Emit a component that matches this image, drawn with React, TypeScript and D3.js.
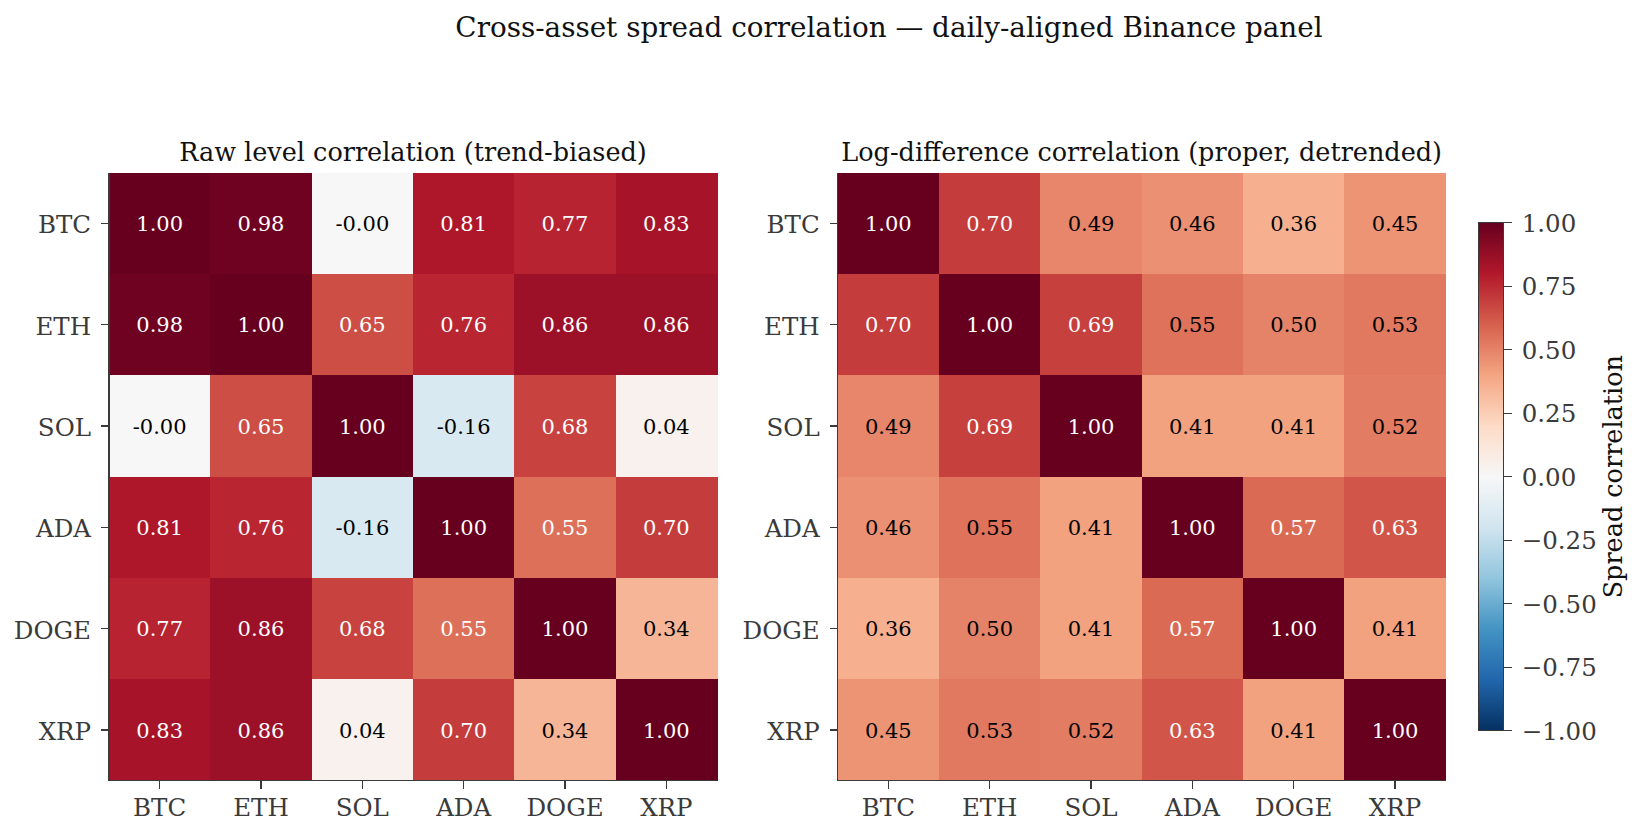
import * as d3 from "d3";

// Assets shown on both axes of each matrix
const assets = ["BTC", "ETH", "SOL", "ADA", "DOGE", "XRP"];

// Correlation of raw spread levels
const rawCorr = [
  [1.0, 0.98, -0.002, 0.81, 0.77, 0.83],
  [0.98, 1.0, 0.65, 0.76, 0.86, 0.86],
  [-0.002, 0.65, 1.0, -0.16, 0.68, 0.04],
  [0.81, 0.76, -0.16, 1.0, 0.553, 0.7],
  [0.77, 0.86, 0.68, 0.553, 1.0, 0.34],
  [0.83, 0.86, 0.04, 0.7, 0.34, 1.0],
];

// Correlation of log-differenced spreads
const logDiffCorr = [
  [1.0, 0.7, 0.49, 0.46, 0.36, 0.45],
  [0.7, 1.0, 0.69, 0.548, 0.5, 0.53],
  [0.49, 0.69, 1.0, 0.41, 0.41, 0.52],
  [0.46, 0.548, 0.41, 1.0, 0.57, 0.63],
  [0.36, 0.5, 0.41, 0.57, 1.0, 0.41],
  [0.45, 0.53, 0.52, 0.63, 0.41, 1.0],
];

const panelTitles = [
  "Raw level correlation (trend-biased)",
  "Log-difference correlation (proper, detrended)",
];
const cbarTicks = [-1, -0.75, -0.5, -0.25, 0, 0.25, 0.5, 0.75, 1];

const W = 1642;
const H = 836;
const FONT = "'DejaVu Serif', 'Liberation Serif', serif";
const AXIS = "#3a3a3a";

const panelTop = 172.7;
const panelSize = 608;
const panelLefts = [109, 837.7];
const cbar = { x: 1478.7, w: 25, top: 222.7, bottom: 730.7 };

// RdBu_r, linear between the 11 brewer stops
const rdbu = d3.schemeRdBu[11].slice().reverse();
const colorStops = d3.range(11).map((i) => -1 + i * 0.2);
const color = d3
  .scaleLinear<string>()
  .domain(colorStops)
  .range(rdbu)
  .interpolate(d3.interpolateRgb)
  .clamp(true);

const fmtTick = d3.format(".2f");

function Heatmap({ matrix, title, left }: { matrix: number[][]; title: string; left: number }) {
  const x = d3.scaleBand().domain(assets).range([left, left + panelSize]);
  const y = d3.scaleBand().domain(assets).range([panelTop, panelTop + panelSize]);
  const bottom = panelTop + panelSize;

  return (
    <g>
      <text
        x={left + panelSize / 2}
        y={161}
        textAnchor="middle"
        fontSize={25.5}
        fill="#111"
      >
        {title}
      </text>

      {matrix.map((row, i) =>
        row.map((v, j) => (
          <g key={`${i}-${j}`}>
            <rect
              x={x(assets[j])}
              y={y(assets[i])}
              width={x.bandwidth() + 0.5}
              height={y.bandwidth() + 0.5}
              fill={color(v)}
            />
            <text
              x={x(assets[j])! + x.bandwidth() / 2}
              y={y(assets[i])! + y.bandwidth() / 2 + 7.6}
              textAnchor="middle"
              fontSize={21}
              fill={Math.abs(v) > 0.55 ? "#fff" : "#000"}
            >
              {v.toFixed(2)}
            </text>
          </g>
        ))
      )}

      {/* left and bottom spines */}
      <line x1={left} x2={left} y1={panelTop} y2={bottom} stroke={AXIS} strokeWidth={1.5} />
      <line x1={left} x2={left + panelSize} y1={bottom} y2={bottom} stroke={AXIS} strokeWidth={1.5} />

      {assets.map((a) => {
        const cy = y(a)! + y.bandwidth() / 2;
        return (
          <g key={`y-${a}`}>
            <line x1={left - 8} x2={left} y1={cy} y2={cy} stroke={AXIS} strokeWidth={1.3} />
            <text x={left - 18} y={cy + 10} textAnchor="end" fontSize={24.5} fill={AXIS}>
              {a}
            </text>
          </g>
        );
      })}

      {assets.map((a) => {
        const cx = x(a)! + x.bandwidth() / 2;
        return (
          <g key={`x-${a}`}>
            <line x1={cx} x2={cx} y1={bottom} y2={bottom + 8} stroke={AXIS} strokeWidth={1.3} />
            <text x={cx} y={816} textAnchor="middle" fontSize={24.5} fill={AXIS}>
              {a}
            </text>
          </g>
        );
      })}
    </g>
  );
}

function Colorbar() {
  const y = d3.scaleLinear().domain([-1, 1]).range([cbar.bottom, cbar.top]);
  const right = cbar.x + cbar.w;
  const mid = (cbar.top + cbar.bottom) / 2;

  return (
    <g>
      <defs>
        <linearGradient id="cbar-grad" x1="0" y1="1" x2="0" y2="0">
          {colorStops.map((s) => (
            <stop key={s} offset={(s + 1) / 2} stopColor={color(s)} />
          ))}
        </linearGradient>
      </defs>
      <rect
        x={cbar.x}
        y={cbar.top}
        width={cbar.w}
        height={cbar.bottom - cbar.top}
        fill="url(#cbar-grad)"
        stroke={AXIS}
        strokeWidth={1.5}
      />
      {cbarTicks.map((t) => (
        <g key={t}>
          <line x1={right} x2={right + 8} y1={y(t)} y2={y(t)} stroke={AXIS} strokeWidth={1.3} />
          <text x={right + 18} y={y(t) + 8.8} fontSize={24.5} fill={AXIS}>
            {fmtTick(t)}
          </text>
        </g>
      ))}
      <text
        transform={`translate(1621.5, ${mid}) rotate(-90)`}
        textAnchor="middle"
        fontSize={25.5}
        fill="#111"
      >
        Spread correlation
      </text>
    </g>
  );
}

export default function App() {
  return (
    <svg
      width={W}
      height={H}
      viewBox={`0 0 ${W} ${H}`}
      style={{ position: "absolute", left: 0, top: 0, background: "#fff" }}
      fontFamily={FONT}
      shapeRendering="crispEdges"
    >
      <rect width={W} height={H} fill="#fff" />
      <text x={889} y={36.5} textAnchor="middle" fontSize={27.8} fill="#111">
        Cross-asset spread correlation — daily-aligned Binance panel
      </text>
      <Heatmap matrix={rawCorr} title={panelTitles[0]} left={panelLefts[0]} />
      <Heatmap matrix={logDiffCorr} title={panelTitles[1]} left={panelLefts[1]} />
      <Colorbar />
    </svg>
  );
}
